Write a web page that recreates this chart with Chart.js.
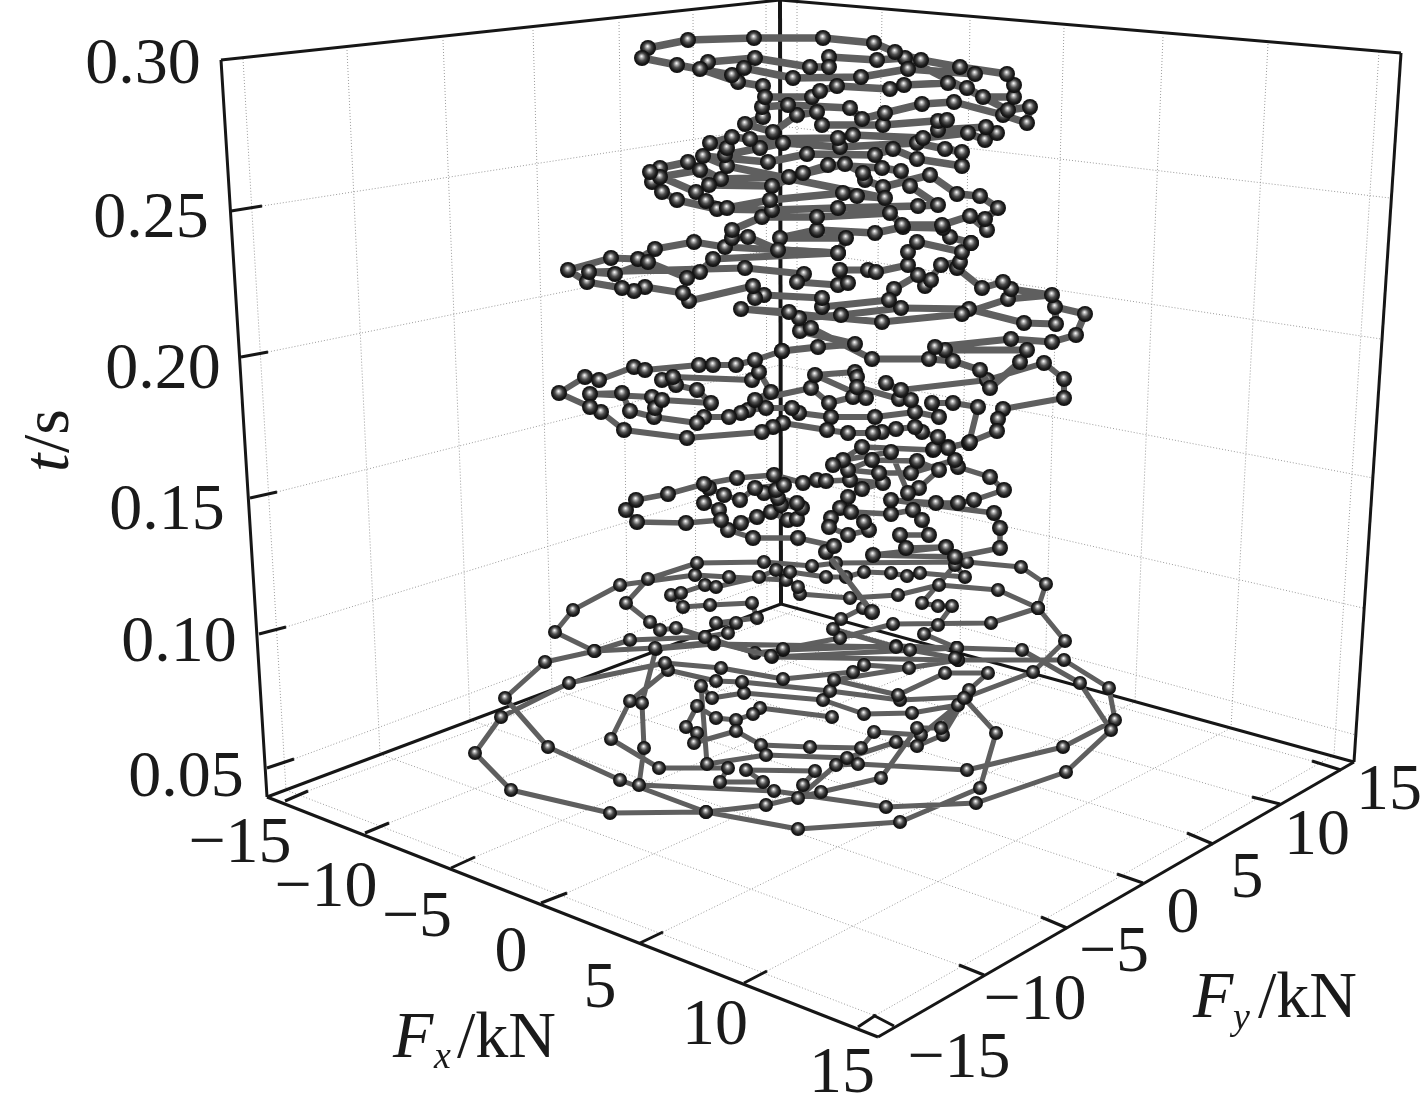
<!DOCTYPE html>
<html>
<head>
<meta charset="utf-8">
<style>body{margin:0;background:#fff}</style>
<script src="https://cdn.jsdelivr.net/npm/chart.js@4"></script>
</head>
<body>
<canvas id="chart" width="1425" height="1094"></canvas>
<script>
// Trajectory, as [x, y] on the projected view plane, lowest turns first
const turnsLow = [[832,717],[760,708],[753,714],[736,720],[716,718],[697,706],[686,727],[697,733],[694,743],[736,731],[761,745],[810,747],[861,748],[874,732],[921,735],[958,705],[912,713],[864,714],[823,700],[744,693],[712,698],
  [701,686],[707,764],[766,755],[847,758],[896,742],[917,746],[943,735],[966,697],[900,700],[830,691],[742,682],[716,681],
  [668,670],[630,701],[611,739],[659,768],[728,768],[720,782],[763,782],[746,770],[815,771],[803,785],[798,798],[836,765],[858,764],[967,770],[1063,747],[1115,720],[1109,688],[1064,660],[958,660],[909,668],[864,665],[853,672],[783,679],[721,668],
  [665,663],[569,683],[501,717],[475,753],[511,790],[610,813],[706,812],[766,805],[821,792],[881,778],[917,728],[941,728],[969,690],[988,673],[945,673],[898,695],[834,680],[958,660],[772,657],[957,648],[714,644],[656,649],
  [642,703],[644,748],[639,785],[774,791],[886,807],[976,803],[1066,772],[1111,730],[1080,683],[1022,650],[956,648],[896,646],[783,650],
  [755,653],[705,637],[630,640],[595,651],[545,662],[505,698],[548,747],[620,780],[706,812],[798,829],[900,822],[980,788],[996,733],[964,698],[1033,672],[1065,641],[1038,608]];
const turnsLowMid = [[998,590],[939,585],[898,595],[850,598],[800,594],[798,587],[786,580],[729,577],[695,575],[620,585],[573,610],[555,632],[594,651],[655,648],[714,642],[771,656],[783,649],[840,638],[893,624],[991,623],[1038,608],[1046,584],[1021,567],[967,562],[836,563],[812,566],[764,562],[697,563],[648,579],[626,603],[650,622],[660,630],[676,628],[705,637],[728,633],[736,623],[716,623],[757,618],[752,603],[710,605],[683,607],[671,595],[681,593],[705,585],[716,587],[759,577],[776,570],[790,572],[826,577],[846,577],[864,572],[891,573],[907,576],[920,573],[965,577],[955,565],[922,603],[938,606],[952,606],[938,625],[924,634],[957,648],[955,658],[910,650],[896,647],[833,629],[841,619],[863,608],[872,612]];
const turnsWaist = [[826,552],[834,546],[798,538],[753,538],[728,530],[741,523],[757,517],[771,512],[788,520],[797,519],[802,508],[781,505],[797,503],[778,498],[764,493],[776,490],[784,485],[755,488],[740,500],[724,495],[709,488],[704,503],[719,510],[721,520],[686,523],[637,522],[626,510],[636,500],[668,494],[704,484],[737,478],[774,475],[803,483],[817,480],[826,481],[850,480],[883,483],[862,489],[848,497],[840,508],[831,518],[829,527],[848,535],[869,530],[864,522],[851,512],[891,514],[913,510],[922,520],[929,535],[900,535],[906,548],[946,547],[873,555],[955,557],[1000,548],[1000,528],[994,513],[891,500],[936,503],[958,503],[974,500],[1004,490],[990,477],[958,467],[955,460],[911,473],[879,473],[848,470],[872,460],[917,461],[939,470],[919,488],[908,493],[891,452],[843,460],[833,465],[862,447],[933,450],[948,447],[969,443]];
const turnsMid = [[978,407],[953,403],[932,403],[939,417],[915,412],[875,417],[831,417],[799,413],[792,408],[766,408],[748,410],[741,413],[729,417],[704,417],[697,423],[654,417],[630,411],[622,393],[590,394],[652,397],[655,408],[662,400],[711,403],[697,390],[676,385],[662,380],[673,377],[752,380],[759,372],[771,392],[755,400],[811,388],[829,403],[853,397],[866,398],[815,375],[855,372],[857,377],[857,387],[899,399],[911,400],[886,383],[901,390],[987,380],[1044,363],[1064,379],[1064,398],[1003,409],[998,419],[997,431],[970,442],[948,448],[934,449],[938,437],[922,432],[915,427],[896,429],[882,432],[873,433],[848,433],[827,430],[783,423],[773,427],[762,432],[687,438],[624,430],[601,412],[590,407],[559,393],[585,377],[599,380],[634,367],[645,370],[699,365],[713,365],[736,365],[755,360],[782,351]];
const turnsUpperMid = [[818,347],[855,344],[800,331],[811,328],[872,359],[929,359],[953,361],[980,370],[990,388],[1020,362],[1027,350],[945,350],[935,347],[1011,339],[1052,342],[1076,335],[1085,314],[1055,307],[1056,324],[1024,323],[969,309],[901,308],[841,315],[799,318],[789,312],[741,309],[882,322],[962,314],[1008,299],[1052,295],[1011,289],[1003,282],[982,288],[957,268],[960,262],[941,265],[925,286],[931,280],[918,275],[894,289],[889,300],[822,307],[822,298],[764,295],[755,298],[753,286],[689,301],[683,293],[645,287],[634,291],[622,288],[587,282],[568,270],[611,258],[638,259],[655,249],[694,242],[725,247],[838,253],[713,259],[700,272],[687,278],[648,262],[615,274],[589,272],[745,268],[804,274],[797,282],[838,285],[848,283],[840,270],[868,270],[876,272],[908,265],[908,252],[917,242],[962,252],[971,243]];
const turnsTop = [[950,237],[943,228],[903,227],[875,233],[817,230],[780,238],[846,238],[838,253],[778,250],[748,237],[732,238],[732,230],
  [762,217],[817,217],[890,213],[902,225],[942,225],[970,216],[987,230],[985,219],[998,208],[980,196],[957,194],[930,175],[883,187],[865,180],[863,173],[845,164],[789,177],[721,179],[688,162],[660,168],[652,182],[662,192],[677,200],[717,209],[772,210],[838,208],[918,206],[938,205],[910,186],[901,171],[882,168],[828,165],[803,173],[772,186],[709,185],[700,170],[660,177],[650,172],[696,192],[706,201],[727,208],[770,200],[843,193],[857,196],[885,198],
  [727,166],[703,156],[768,162],[807,154],[875,155],[893,149],[917,159],[962,166],[962,152],[945,149],[917,143],[840,147],[783,143],[760,148],[725,155],[727,148],[710,143],[732,137],[750,139],[838,138],[853,135],[923,138],[968,133],[985,140],[997,133],[986,127],[938,130],[938,121],[947,120],[883,125],[822,125],[817,112],[797,115],[773,132],[745,124],[763,117],[762,107],[788,105],[850,108],[862,119],[885,113],[922,104],[954,102],[1003,115],[1027,123],[1030,107],[1008,110],
  [905,58],[877,60],[829,57],[829,67],[810,67],[755,58],[708,62],[700,69],[738,82],[763,86],[765,97],[812,97],[820,91],[837,86],[890,89],[904,85],[948,83],[967,88],[983,97],[1014,97],[1014,85],[1007,74],[960,67],[921,60],[895,52],[874,43],[823,38],[754,38],[688,40],[648,48],[642,58],[677,65],[732,75],[744,68],[793,78],[861,77],[908,69],[975,74]];

// Tick labels
const tLabels = ['0.30', '0.25', '0.20', '0.15', '0.10', '0.05'];
const fxLabels = ['−15', '−10', '−5', '0', '5', '10', '15'];
const fyLabels = ['−15', '−10', '−5', '0', '5', '10', '15'];

// Box frame on the view plane
const cornerTL = [221, 60], cornerTB = [780, 0], cornerTR = [1401, 53];
const cornerBL = [267, 797], cornerBB = [781, 604], cornerBF = [878, 1037], cornerBR = [1354, 762];
const tTicks = [[[231,211],[262,206]], [[241,357],[268,352]], [[250,498],[277,492]], [[259,634],[286,627]], [[267,768],[294,759]]];
const tGridBack = [[780,126], [780,248], [780,365], [780,475], [780,578]];
const tGridRight = [[1390,198], [1381,339], [1373,478], [1363,608], [1356,735]];
const fxTicks = [[[285,801],[308,791]], [[365,833],[389,823]], [[451,868],[475,857]], [[541,903],[567,893]], [[640,943],[663,932]], [[744,983],[767,971]], [[858,1027],[876,1015]]];
const fyTicks = [[[894,1026],[873,1015]], [[984,975],[959,965]], [[1067,928],[1041,917]], [[1143,883],[1117,874]], [[1213,844],[1187,833]], [[1280,804],[1252,797]], [[1341,770],[1312,761]]];
const leftWallTop = [[243,59],[347,50],[443,40],[533,30],[619,22],[693,14],[766,5]];
const leftWallFoot = [[286,790],[380,754],[470,720],[552,689],[628,661],[696,635],[767,608]];
const rightWallTop = [[797,3],[882,12],[970,20],[1064,28],[1163,37],[1268,44],[1379,52]];
const rightWallFoot = [[797,610],[872,630],[960,653],[1045,677],[1135,702],[1231,728],[1334,755]];

function makeSphere(d) {
  const c = document.createElement('canvas');
  c.width = c.height = d;
  const g = c.getContext('2d');
  const r = d / 2;
  const grad = g.createRadialGradient(r - 0.5, r - 1.8, 0.3, r, r, r);
  grad.addColorStop(0, '#f2f2f2');
  grad.addColorStop(0.2, '#a8a8a8');
  grad.addColorStop(0.45, '#505050');
  grad.addColorStop(0.75, '#1d1d1d');
  grad.addColorStop(1, '#0c0c0c');
  g.fillStyle = grad;
  g.beginPath();
  g.arc(r, r, r, 0, Math.PI * 2);
  g.fill();
  return c;
}

const toXY = p => ({ x: p[0], y: p[1] });

function bandDataset(points, prev, lineWidth, sphere) {
  const path = prev ? [prev[prev.length - 1]].concat(points) : points;
  return {
    data: path.map(toXY),
    showLine: true,
    borderColor: '#5f5f5f',
    borderWidth: lineWidth,
    borderJoinStyle: 'round',
    pointStyle: sphere,
    pointRadius: 8,
    pointHoverRadius: 8,
    tension: 0
  };
}

function seg(a, b, color, width, dash) {
  return {
    data: [toXY(a), toXY(b)],
    showLine: true,
    borderColor: color,
    borderWidth: width,
    borderDash: dash || [],
    pointRadius: 0,
    tension: 0
  };
}

const small = makeSphere(14), large = makeSphere(16);
const datasets = [
  bandDataset(turnsTop, turnsUpperMid, 7.5, large),
  bandDataset(turnsUpperMid, turnsMid, 7, large),
  bandDataset(turnsMid, turnsWaist, 6, large),
  bandDataset(turnsWaist, turnsLowMid, 5.5, large),
  bandDataset(turnsLowMid, turnsLow, 5, small),
  bandDataset(turnsLow, null, 5, small)
];

// front edges and ticks
const black = '#161616', dots = '#9a9a9a', dotDash = [1, 2];
[[cornerBL, cornerBF], [cornerBF, cornerBR], [cornerBL, cornerTL], [cornerBR, cornerTR], [cornerTL, cornerTB], [cornerTB, cornerTR]].forEach(e => datasets.push(seg(e[0], e[1], black, 3)));
[...tTicks, ...fxTicks, ...fyTicks].forEach(t => datasets.push(seg(t[0], t[1], black, 3)));
// back edges
[[cornerTB, cornerBB], [cornerBL, cornerBB], [cornerBB, cornerBR]].forEach((e, i) => datasets.push(seg(e[0], e[1], black, i ? 3 : 4)));
// grid
tTicks.forEach((t, i) => {
  datasets.push(seg(t[1], tGridBack[i], dots, 1, dotDash));
  datasets.push(seg(tGridBack[i], tGridRight[i], dots, 1, dotDash));
});
leftWallTop.forEach((p, i) => datasets.push(seg(p, leftWallFoot[i], dots, 1, dotDash)));
rightWallTop.forEach((p, i) => datasets.push(seg(p, rightWallFoot[i], dots, 1, dotDash)));
fxTicks.forEach((t, i) => datasets.push(seg(t[1], rightWallFoot[i], dots, 1, dotDash)));
fyTicks.forEach((t, i) => datasets.push(seg(t[1], leftWallFoot[i], dots, 1, dotDash)));

const tLabelPos = [[143,83],[151,237],[163,388],[167,529],[179,661],[186,796]];
const fxLabelPos = [[240,862],[326,906],[417,936],[511,971],[600,1007],[715,1044],[842,1092]];
const fyLabelPos = [[959,1077],[1035,1019],[1114,971],[1183,932],[1247,897],[1317,854],[1389,809]];

const labelsPlugin = {
  id: 'boxLabels',
  afterDraw(chart) {
    const { ctx, scales } = chart;
    const px = p => [scales.x.getPixelForValue(p[0]), scales.y.getPixelForValue(p[1])];
    const put = (text, p, font, align) => {
      const [x, y] = px(p);
      ctx.font = font;
      ctx.textAlign = align || 'center';
      ctx.fillText(text, x, y);
    };
    const serif = '66px "Liberation Serif"', italic = 'italic 66px "Liberation Serif"', sub = 'italic 38px "Liberation Serif"';
    ctx.save();
    ctx.fillStyle = '#1a1a1a';
    ctx.textBaseline = 'alphabetic';
    tLabels.forEach((s, i) => put(s, tLabelPos[i], serif));
    fxLabels.forEach((s, i) => put(s, fxLabelPos[i], serif));
    fyLabels.forEach((s, i) => put(s, fyLabelPos[i], serif));
    put('F', [393,1057], italic, 'left');
    put('x', [434,1068], sub, 'left');
    put('/kN', [457,1057], serif, 'left');
    put('F', [1193,1017], italic, 'left');
    put('y', [1233,1029], sub, 'left');
    put('/kN', [1258,1017], serif, 'left');
    // t/s reads upwards
    ctx.translate(68, 472);
    ctx.rotate(-Math.PI / 2);
    ctx.textAlign = 'left';
    ctx.font = italic;
    ctx.fillText('t', 0, 0);
    ctx.font = serif;
    ctx.fillText('/s', 19, 0);
    ctx.restore();
  }
};

new Chart(document.getElementById('chart').getContext('2d'), {
  type: 'scatter',
  data: { datasets },
  plugins: [labelsPlugin],
  options: {
    responsive: false,
    animation: false,
    events: [],
    layout: { padding: 0, autoPadding: false },
    clip: false,
    scales: {
      x: { type: 'linear', min: 0, max: 1425, display: false },
      y: { type: 'linear', min: 0, max: 1094, reverse: true, display: false }
    },
    plugins: { legend: { display: false }, tooltip: { enabled: false } }
  }
});
</script>
</body>
</html>
